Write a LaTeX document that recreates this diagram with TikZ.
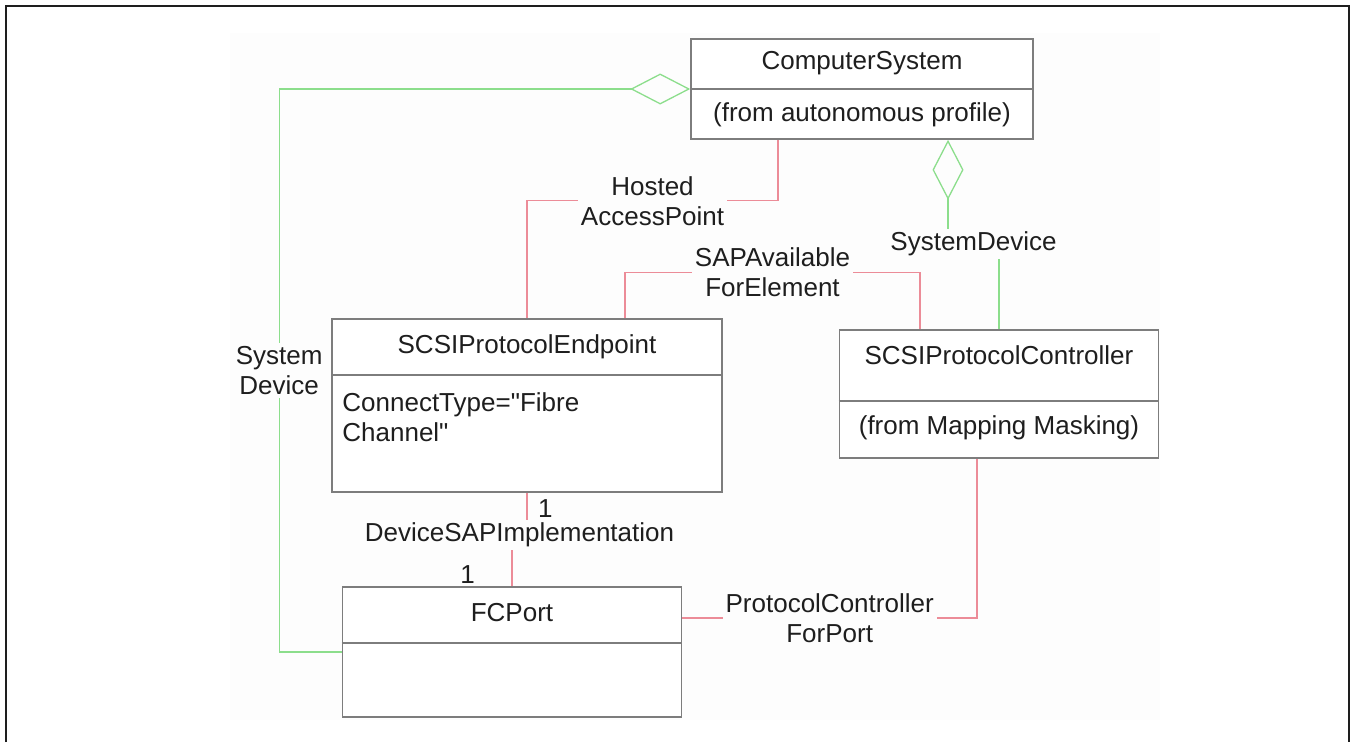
\documentclass[tikz,border=0pt]{standalone}
\usepackage{fontspec}
\setmainfont{Liberation Sans}[Ligatures=TeXOff]
\usetikzlibrary{arrows.meta, positioning}

\definecolor{linegreen}{RGB}{140,222,140}
\definecolor{linered}{RGB}{236,140,152}
\definecolor{boxgray}{RGB}{125,125,125}
\definecolor{inkgray}{RGB}{30,30,30}
\definecolor{paper}{RGB}{253,253,253}
\newcommand{\umlfont}{\fontsize{26}{30}\selectfont}

\begin{document}
\begin{tikzpicture}[x=1pt,y=-1pt,
    every node/.style={font=\umlfont, text=inkgray},
    classbox/.style={draw=boxgray, line width=1.6pt, fill=white, inner sep=0pt},
    divider/.style={draw=boxgray, line width=1.6pt},
    assoc/.style={draw=linered, line width=1.3pt},
    sysdev/.style={draw=linegreen, line width=1.3pt, {Diamond[open,length=60pt,width=31pt]}-},
    lbl/.style={fill=paper, align=center, inner xsep=3pt, inner ysep=3pt},
    mult/.style={inner sep=0pt}]

% page, drawing area and frame
\useasboundingbox (0,0) rectangle (1351,742);
\fill[paper] (230,33) rectangle (1160,720);
\draw[inkgray, line width=2.2pt] (6,742) -- (6,6) -- (1349,6) -- (1349,742);

% classes
\node[classbox, minimum width=342pt, minimum height=100pt] (cs) at (862,89) {};
\node (cstitle) at ([yshift=-25pt]cs.north) {ComputerSystem};
\node (csfrom)  at ([yshift=25pt]cs.south)  {(from autonomous profile)};
\draw[divider] (cs.west) -- (cs.east);

\node[classbox, minimum width=390pt, minimum height=173pt] (ep) at (527,405.5) {};
\node (eptitle) at ([yshift=-29pt]ep.north) {SCSIProtocolEndpoint};
\node[anchor=north west, align=left, inner sep=0pt] (epattr) at ([xshift=11pt,yshift=-74pt]ep.north west) {ConnectType="Fibre\\Channel"};
\draw[divider] ([yshift=-57pt]ep.north west) -- ([yshift=-57pt]ep.north east);

\node[classbox, minimum width=319pt, minimum height=128pt] (pc) at (999,394) {};
\node (pctitle) at ([yshift=-26pt]pc.north) {SCSIProtocolController};
\node (pcfrom)  at ([yshift=31pt]pc.south)  {(from Mapping Masking)};
\draw[divider] ([yshift=-72pt]pc.north west) -- ([yshift=-72pt]pc.north east);

\node[classbox, minimum width=339pt, minimum height=130pt] (fc) at (512,652) {};
\node (fctitle) at ([yshift=-26pt]fc.north) {FCPort};
\draw[divider] ([yshift=-57pt]fc.north west) -- ([yshift=-57pt]fc.north east);

% associations
\draw[assoc] ([xshift=-84pt]cs.south) -- ++(0,61) -| node[lbl, pos=0.25] {Hosted\\AccessPoint} (ep.north);
\draw[assoc] ([xshift=98pt]ep.north) -- ++(0,-46) -| node[lbl, pos=0.25] {SAPAvailable\\ForElement} ([xshift=-79pt]pc.north);
\draw[assoc] (ep.south) -- ++(0,42) -| node[lbl, pos=0.25] {DeviceSAPImplementation} (fc.north);
\draw[assoc] ([yshift=34pt]fc.east) -| node[lbl, pos=0.25] {ProtocolController\\ForPort} ([xshift=-22pt]pc.south);

% aggregations
\draw[sysdev] (cs.west) -- ++(-411,0) |- node[lbl, pos=0.25] {System\\Device} (fc.west);
\draw[sysdev] ([xshift=86pt]cs.south) -- ++(0,104) -- node[lbl] {SystemDevice} ++(51,0) -- (pc.north);

% multiplicities
\node[mult, below right=7pt and 11pt of ep.south] (epmult) {1};
\node[mult, above left=3pt and 37pt of fc.north] (fcmult) {1};
\end{tikzpicture}
\end{document}
